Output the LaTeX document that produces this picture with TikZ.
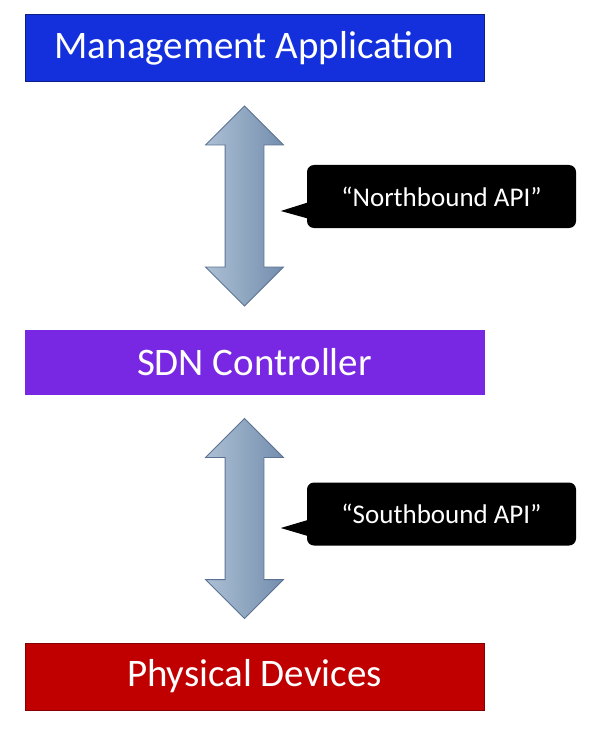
\documentclass[tikz,border=0pt]{standalone}
\usepackage{fontspec}
\setmainfont{Carlito}
\usetikzlibrary{shapes.arrows,calc}
\definecolor{mgmtblue}{RGB}{20,48,220}
\definecolor{sdnpurple}{RGB}{120,40,226}
\definecolor{devred}{RGB}{192,0,0}
\definecolor{arrowlight}{RGB}{172,192,212}
\definecolor{arrowdark}{RGB}{116,142,174}
\definecolor{arrowedge}{RGB}{92,114,146}
\begin{document}
\begin{tikzpicture}[x=1pt,y=-1pt]
				\tikzstyle{layer}=[draw, line width=1pt, minimum width=459pt, text=white, inner sep=0pt, font=\fontsize{39}{44}\selectfont]
				\tikzstyle{api}=[double arrow, double arrow head extend=19.5pt, double arrow tip angle=90, inner xsep=0pt, inner ysep=19pt, minimum height=200pt, rotate=90, draw=arrowedge, line width=0.8pt, left color=arrowlight, right color=arrowdark]
				\tikzstyle{bubble}=[fill=black, rounded corners=7pt, minimum width=269pt, minimum height=63pt, text=white, font=\fontsize{27}{32}\selectfont]
				\useasboundingbox (0,0) rectangle (606,730);
				\node [layer, fill=mgmtblue, draw=mgmtblue!60!black, minimum height=67pt] (mgmt) at (254.5,48.5) {Management Application};
				\node [layer, fill=sdnpurple, draw=sdnpurple, minimum height=64pt] (sdn) at (254.5,362) {SDN Controller};
				\node [layer, fill=devred, draw=devred!70!black, minimum height=67pt] (phys) at (254.5,676.5) {Physical Devices};
				\node [api] (north) at ($(mgmt.south)!0.5!(sdn.north)+(-10,0)$) {};
				\node [api] (south) at ($(sdn.south)!0.5!(phys.north)+(-10,0)$) {};
				\node [bubble] (nbapi) at (441.5,196.5) {“Northbound API”};
				\node [bubble] (sbapi) at (441.5,514) {“Southbound API”};
				\fill [black] ($(nbapi.west)+(1,6)$) -- ($(nbapi.west)+(-26,14.5)$) -- ($(nbapi.west)+(1,22)$) -- cycle;
				\fill [black] ($(sbapi.west)+(1,6)$) -- ($(sbapi.west)+(-26,14)$) -- ($(sbapi.west)+(1,22)$) -- cycle;
			\end{tikzpicture}
\end{document}
